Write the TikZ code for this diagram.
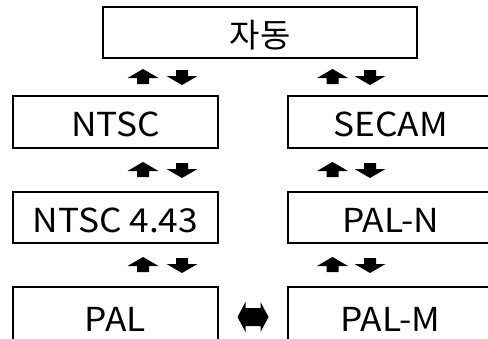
\documentclass[tikz,border=0pt]{standalone}
\usepackage{fontspec}
\setmainfont{Noto Sans CJK KR}
\newfontfamily\latfont[FakeStretch=1.07]{Noto Sans CJK KR}
\usetikzlibrary{positioning,calc}

\tikzset{
  modebox/.style={draw, line width=1.1pt, minimum height=52pt, inner sep=0pt,
    text height=29pt, text depth=0pt, font=\fontsize{33}{40}\selectfont},
  colbox/.style={modebox, minimum width=205pt, font=\fontsize{33}{40}\selectfont\latfont},
  uparr/.pic={\fill (0,-8) -- (15.5,1) -- (6,1) -- (6,7) -- (-6,7) -- (-6,1) -- (-15.5,1) -- cycle;},
  downarr/.pic={\fill (0,8) -- (15.5,-1) -- (6,-1) -- (6,-7) -- (-6,-7) -- (-6,-1) -- (-15.5,-1) -- cycle;},
  lrarr/.pic={\fill (-15.5,0) -- (-7.5,-15) -- (-7.5,-9) -- (7.5,-9) -- (7.5,-15) -- (15.5,0)
    -- (7.5,15) -- (7.5,9) -- (-7.5,9) -- (-7.5,15) -- cycle;}
}

\begin{document}
\begin{tikzpicture}[x=1pt, y=-1pt]
  \useasboundingbox (0,0) rectangle (488,338);
  \clip (0,0) rectangle (488,338);

  % Top box
  \node[modebox, minimum width=314pt, minimum height=51pt] (auto) at (260,32.5) {자동};

  % Left column
  \node[colbox] (ntsc) at (115.5,122) {NTSC};
  \node[colbox, minimum height=51pt] (ntsc443) at (115.5,217.5) {NTSC 4.43};
  \node[colbox, minimum height=60pt] (pal) at (115.5,317) {PAL};

  % Right column
  \node[colbox] (secam) at (390.5,122) {SECAM};
  \node[colbox, minimum height=51pt] (paln) at (390.5,217.5) {PAL-N};
  \node[colbox, minimum height=60pt] (palm) at (390.5,317) {PAL-M};

  % Arrows
  \pic at (143,77) {uparr};
  \pic at (182,77) {downarr};
  \pic at (332.5,77) {uparr};
  \pic at (370,77) {downarr};
  \pic at (143,170) {uparr};
  \pic at (182,170) {downarr};
  \pic at (332.5,170) {uparr};
  \pic at (370,170) {downarr};
  \pic at (143,265) {uparr};
  \pic at (182,265) {downarr};
  \pic at (332.5,265) {uparr};
  \pic at (370,265) {downarr};
  \pic at ($(pal.east)!0.5!(palm.west)$) {lrarr};
\end{tikzpicture}
\end{document}
